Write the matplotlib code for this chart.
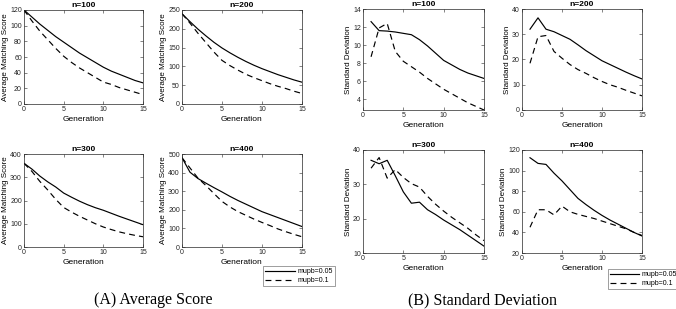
import matplotlib
matplotlib.use("Agg")
import matplotlib.pyplot as plt
import numpy as np

plt.rcParams['font.family'] = ['Liberation Sans', 'DejaVu Sans']

# ---------- data ----------
gen_a = list(range(0, 16))
gen_b = list(range(1, 16))

avg_100_s = [120, 111, 102, 94, 86, 79, 72, 65, 59, 53, 47, 42, 38, 34, 30, 27]
avg_100_d = [120, 106, 93, 82, 71, 61, 53, 46, 40, 34, 28, 25, 21, 18, 15, 12]
avg_200_s = [240, 219, 199, 181, 164, 149, 136, 124, 113, 103, 94, 86, 78, 71, 64, 58]
avg_200_d = [240, 215, 188, 163, 138, 116, 102, 90, 79, 70, 62, 54, 47, 41, 34, 28]
avg_300_s = [360, 335, 305, 280, 258, 232, 214, 197, 182, 169, 158, 145, 132, 120, 108, 96]
avg_300_d = [360, 325, 282, 245, 205, 170, 150, 132, 116, 100, 86, 75, 65, 57, 50, 44]
avg_400_s = [480, 402, 368, 343, 319, 296, 272, 250, 230, 210, 190, 174, 158, 142, 126, 110]
avg_400_d = [480, 425, 370, 330, 287, 245, 215, 190, 170, 150, 132, 115, 97, 82, 68, 55]

sd_100_s = [12.6, 11.6, 11.55, 11.45, 11.3, 11.15, 10.6, 9.9, 9.1, 8.3, 7.8, 7.3, 6.9, 6.6, 6.3]
sd_100_d = [8.7, 11.9, 12.4, 9.3, 8.2, 7.6, 7.0, 6.3, 5.7, 5.1, 4.6, 4.1, 3.6, 3.2, 2.8]
sd_200_s = [32, 36.5, 32, 31, 29.5, 28, 25.8, 23.5, 21.5, 19.5, 18, 16.5, 15, 13.6, 12.3]
sd_200_d = [18.5, 29, 29.5, 23.2, 20.5, 18, 16, 14.5, 12.8, 11.3, 10, 9, 7.8, 6.7, 5.6]
sd_300_s = [37, 36, 37, 32.5, 27.8, 24.5, 24.8, 22.6, 21.2, 19.6, 18.2, 16.8, 15.2, 13.6, 12]
sd_300_d = [34.7, 37.8, 31.8, 34.3, 32, 30.2, 29.2, 26.5, 24.2, 22.2, 20.4, 18.8, 17.2, 15.3, 13.6]
sd_400_s = [112.5, 107, 106, 97.5, 90, 81.5, 73, 67, 61.5, 56.5, 52, 48, 44, 40, 36.5]
sd_400_d = [45, 62, 62, 57, 65.5, 60, 57.5, 55.5, 53.5, 51, 48.5, 46, 43.5, 40, 37]

titles = ['n=100', 'n=200', 'n=300', 'n=400']
series_labels = ['mupb=0.05', 'mupb=0.1']

# ---------- figure ----------
W, H = 676, 309
fig = plt.figure(figsize=(W / 100, H / 100), dpi=100)


def px_axes(x0, x1, y0, y1):
    return fig.add_axes([x0 / W, 1 - y1 / H, (x1 - x0) / W, (y1 - y0) / H])


def style(ax, title, ylabel, ylim, yticks):
    ax.set_xlim(0, 15)
    ax.set_xticks([0, 5, 10, 15])
    ax.set_ylim(*ylim)
    ax.set_yticks(yticks)
    ax.set_title(title, fontsize=6, fontweight='bold', pad=2)
    ax.set_xlabel('Generation', fontsize=6, labelpad=2)
    ax.set_ylabel(ylabel, fontsize=5.8, labelpad=1)
    ax.tick_params(direction='in', length=2, width=0.4, labelsize=5,
                   top=True, right=True, pad=1.5, colors='#262626')
    for s in ax.spines.values():
        s.set_linewidth(0.5)
        s.set_color('#262626')


LW = 0.85
DASH = (0, (5, 3.5))
a_boxes = [(24, 143, 10, 104), (182, 302, 10, 104), (24, 143, 154, 247), (182, 302, 154, 247)]
a_data = [(avg_100_s, avg_100_d), (avg_200_s, avg_200_d), (avg_300_s, avg_300_d), (avg_400_s, avg_400_d)]
a_lims = [((0, 120), range(0, 121, 20)), ((0, 250), range(0, 251, 50)),
          ((0, 400), range(0, 401, 100)), ((0, 500), range(0, 501, 100))]

handles = None
for box, (s, d), (lim, tk), t in zip(a_boxes, a_data, a_lims, titles):
    ax = px_axes(*box)
    l1, = ax.plot(gen_a, s, color='black', lw=LW, ls='-')
    l2, = ax.plot(gen_a, d, color='black', lw=LW, ls=DASH)
    style(ax, t, 'Average Matching Score', lim, list(tk))
    handles = [l1, l2]

b_boxes = [(363, 484, 9, 110), (522, 642, 9, 110), (363, 484, 150, 253), (522, 642, 150, 253)]
b_data = [(sd_100_s, sd_100_d), (sd_200_s, sd_200_d), (sd_300_s, sd_300_d), (sd_400_s, sd_400_d)]
b_lims = [((2.8, 14), range(4, 15, 2)), ((0, 40), range(0, 41, 10)),
          ((10, 40), range(10, 41, 10)), ((20, 120), range(20, 121, 20))]

for box, (s, d), (lim, tk), t in zip(b_boxes, b_data, b_lims, titles):
    ax = px_axes(*box)
    ax.plot(gen_b, s, color='black', lw=LW, ls='-')
    ax.plot(gen_b, d, color='black', lw=LW, ls=DASH)
    style(ax, t, 'Standard Deviation', lim, list(tk))


def add_legend(x0, x1, y0, y1):
    leg = fig.legend(handles, series_labels, loc='center',
                     bbox_to_anchor=(x0 / W, 1 - y1 / H, (x1 - x0) / W, (y1 - y0) / H),
                     fontsize=5, frameon=True, fancybox=False, handlelength=4.2,
                     handletextpad=0.4, borderpad=0.3, labelspacing=0.3,
                     borderaxespad=0)
    leg.get_frame().set_linewidth(0.5)
    leg.get_frame().set_edgecolor('#555555')


add_legend(269, 329, 264, 288)
add_legend(612, 675, 264, 294)

fig.text(153 / W, 1 - 300 / H, '(A) Average Score', family='Liberation Serif',
         fontsize=11.5, ha='center', va='center')
fig.text(482 / W, 1 - 300 / H, '(B) Standard Deviation', family='Liberation Serif',
         fontsize=11.5, ha='center', va='center')

fig.savefig('out.png', dpi=100)
